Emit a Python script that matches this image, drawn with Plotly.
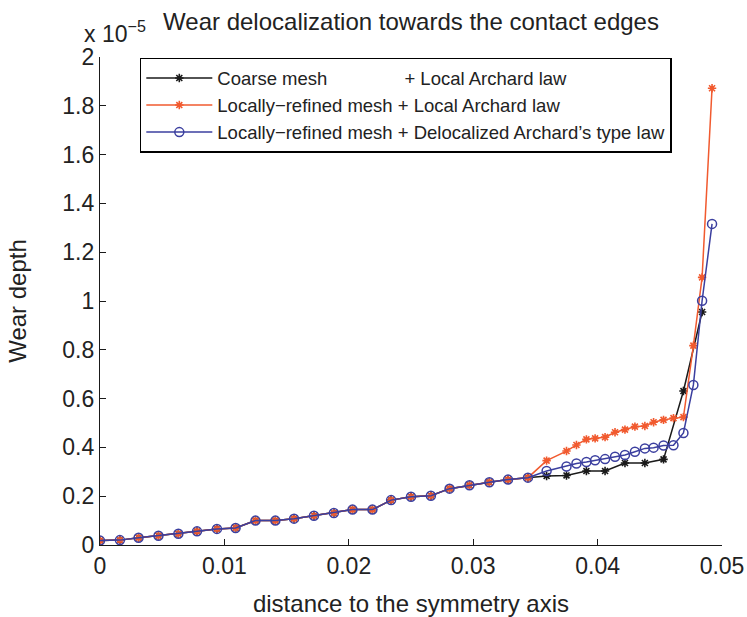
import plotly.graph_objects as go

# Wear depth values are in units of 1e-5
x_coarse = [0.0, 0.0016, 0.0031, 0.0047, 0.0063, 0.0078, 0.0094, 0.0109, 0.0125, 0.0141,
            0.0156, 0.0172, 0.0188, 0.0203, 0.0219, 0.0234, 0.0250, 0.0266, 0.0281, 0.0297,
            0.0313, 0.0328, 0.0344, 0.0359, 0.0375, 0.0391, 0.0406, 0.0422, 0.0438, 0.0453,
            0.0469, 0.0484]
y_coarse = [0.018, 0.020, 0.030, 0.038, 0.046, 0.056, 0.066, 0.070, 0.100, 0.100,
            0.108, 0.120, 0.131, 0.145, 0.145, 0.184, 0.198, 0.202, 0.231, 0.245,
            0.257, 0.268, 0.276, 0.283, 0.285, 0.303, 0.303, 0.336, 0.336, 0.351,
            0.631, 0.955]

x_refined = [0.0, 0.0016, 0.0031, 0.0047, 0.0063, 0.0078, 0.0094, 0.0109, 0.0125, 0.0141,
             0.0156, 0.0172, 0.0188, 0.0203, 0.0219, 0.0234, 0.0250, 0.0266, 0.0281, 0.0297,
             0.0313, 0.0328, 0.0344, 0.0359, 0.0375, 0.0383, 0.0391, 0.0398, 0.0406, 0.0414,
             0.0422, 0.0430, 0.0438, 0.0445, 0.0453, 0.0461, 0.0469, 0.0477, 0.0484, 0.0492]
y_refined_local = [0.018, 0.020, 0.030, 0.038, 0.046, 0.056, 0.066, 0.070, 0.100, 0.100,
                   0.108, 0.120, 0.131, 0.145, 0.145, 0.184, 0.198, 0.202, 0.231, 0.245,
                   0.257, 0.268, 0.276, 0.346, 0.385, 0.410, 0.433, 0.437, 0.442, 0.462,
                   0.473, 0.485, 0.488, 0.503, 0.513, 0.520, 0.524, 0.817, 1.097, 1.872]
y_refined_deloc = [0.018, 0.020, 0.030, 0.038, 0.046, 0.056, 0.066, 0.070, 0.100, 0.100,
                   0.108, 0.120, 0.131, 0.145, 0.145, 0.184, 0.198, 0.202, 0.231, 0.245,
                   0.257, 0.268, 0.276, 0.303, 0.322, 0.334, 0.340, 0.347, 0.352, 0.362,
                   0.369, 0.382, 0.396, 0.399, 0.408, 0.409, 0.459, 0.656, 1.001, 1.316]

names = [
    "Coarse mesh" + "\u00a0" * 15 + "+ Local Archard law",
    "Locally\u2212refined mesh + Local Archard law",
    "Locally\u2212refined mesh + Delocalized Archard\u2019s type law",
]
x_ticks = [0, 0.01, 0.02, 0.03, 0.04, 0.05]
x_labels = ["0", "0.01", "0.02", "0.03", "0.04", "0.05"]
y_ticks = [0, 0.2, 0.4, 0.6, 0.8, 1, 1.2, 1.4, 1.6, 1.8, 2]
y_labels = ["0", "0.2", "0.4", "0.6", "0.8", "1", "1.2", "1.4", "1.6", "1.8", "2"]

BLACK = "#1a1a1a"
RED = "#f15a2f"
BLUE = "#3b3f9f"
TXT = "#222222"
FONT = "Liberation Sans, Arial, sans-serif"

fig = go.Figure()
fig.add_trace(go.Scatter(
    x=x_coarse, y=y_coarse, mode="lines+markers", name=names[0],
    line=dict(color=BLACK, width=1.5),
    marker=dict(symbol="asterisk-open", size=7, color=BLACK, line=dict(color=BLACK, width=1.6)),
))
fig.add_trace(go.Scatter(
    x=x_refined, y=y_refined_local, mode="lines+markers", name=names[1],
    line=dict(color=RED, width=1.5),
    marker=dict(symbol="asterisk-open", size=7, color=RED, line=dict(color=RED, width=1.6)),
))
fig.add_trace(go.Scatter(
    x=x_refined, y=y_refined_deloc, mode="lines+markers", name=names[2],
    line=dict(color=BLUE, width=1.5),
    marker=dict(symbol="circle-open", size=9, color=BLUE, line=dict(color=BLUE, width=1.5)),
))

fig.update_layout(
    width=747, height=617,
    margin=dict(l=100, r=25, t=57, b=72, autoexpand=False),
    paper_bgcolor="white", plot_bgcolor="white",
    font=dict(family=FONT, size=23, color=TXT),
    hovermode=False,
    title=dict(text="Wear delocalization towards the contact edges",
               x=0.5, xref="paper", xanchor="center", y=1 - 22 / 617, yanchor="middle",
               font=dict(size=24, color=TXT, family=FONT)),
    showlegend=True,
    legend=dict(x=0.064, y=0.998, xanchor="left", yanchor="top",
                bgcolor="white", bordercolor="black", borderwidth=1.5,
                font=dict(size=18.5, color=TXT, family=FONT),
                tracegroupgap=0, itemwidth=66),
    xaxis=dict(range=[0, 0.05], tickvals=x_ticks, ticktext=x_labels, automargin=False,
               ticks="inside", ticklen=6, tickcolor=BLACK, showline=True, linecolor=BLACK, linewidth=1.2,
               showgrid=False, zeroline=False, tickfont=dict(size=23),
               title=dict(text="distance to the symmetry axis", standoff=20, font=dict(size=24))),
    yaxis=dict(range=[0, 2], tickvals=y_ticks, ticktext=y_labels, automargin=False,
               ticks="inside", ticklen=6, tickcolor=BLACK, showline=True, linecolor=BLACK, linewidth=1.2,
               showgrid=False, zeroline=False, tickfont=dict(size=23),
               title=dict(text="Wear depth", standoff=28, font=dict(size=24))),
    annotations=[dict(text="x 10<sup>\u22125</sup>", xref="paper", yref="paper",
                      x=0.077, y=1.052, xanchor="right", yanchor="middle", showarrow=False,
                      font=dict(size=23, color=TXT, family=FONT))],
)

fig.write_html("out.html", config={"displayModeBar": False},
               post_script="document.body.style.margin='0';document.body.style.overflow='hidden';")
